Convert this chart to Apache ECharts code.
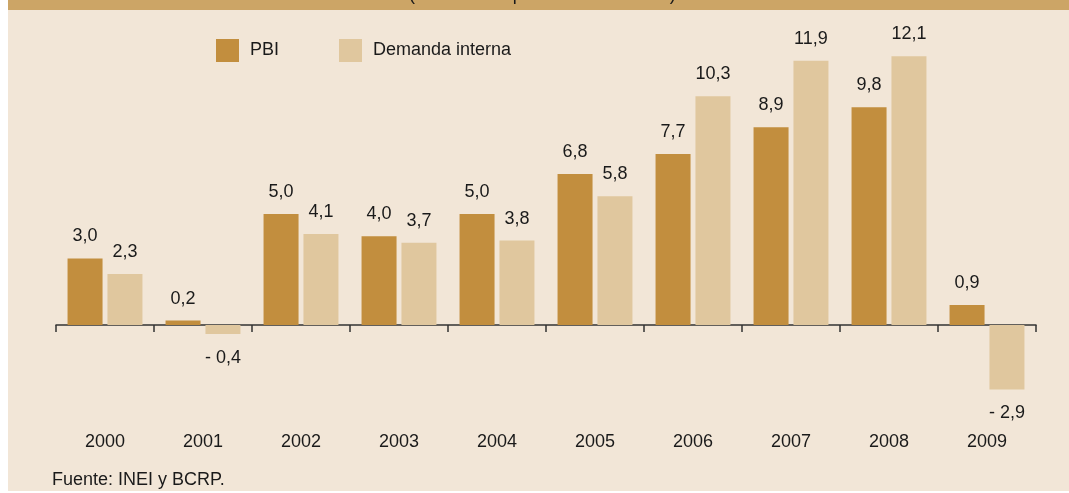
<!DOCTYPE html>
<html>
<head>
<meta charset="utf-8">
<script src="https://cdn.jsdelivr.net/npm/echarts@6/dist/echarts.min.js"></script>
<style>
  html, body { margin: 0; padding: 0; background: #ffffff; }
  #chart { width: 1069px; height: 493px; }
</style>
</head>
<body>
<div id="chart"></div>
<script>
var years = ['2000', '2001', '2002', '2003', '2004', '2005', '2006', '2007', '2008', '2009'];
var pbi = [3.0, 0.2, 5.0, 4.0, 5.0, 6.8, 7.7, 8.9, 9.8, 0.9];
var demanda = [2.3, -0.4, 4.1, 3.7, 3.8, 5.8, 10.3, 11.9, 12.1, -2.9];

var FONT = '"Liberation Sans", Arial, sans-serif';

// 3.0 -> "3,0", -0.4 -> "- 0,4"
function fmt(v) {
  var s = Math.abs(v).toFixed(1).replace('.', ',');
  return v < 0 ? '- ' + s : s;
}

// positive values labelled above, negatives below
function withLabels(arr) {
  return arr.map(function (v) {
    return {
      value: v,
      label: { position: v < 0 ? 'bottom' : 'top', distance: v < 0 ? 15 : 13 }
    };
  });
}

var myChart = echarts.init(document.getElementById('chart'));

var barLabel = {
  show: true,
  color: '#1a1a1a',
  fontSize: 18,
  fontFamily: FONT,
  formatter: function (p) { return fmt(p.value); }
};

var option = {
  animation: false,
  backgroundColor: 'transparent',
  graphic: [
    { type: 'rect', shape: { x: 8, y: 0, width: 1061, height: 491 }, style: { fill: '#F2E6D7' }, z: -10 },
    { type: 'rect', shape: { x: 8, y: 0, width: 1061, height: 10 }, style: { fill: '#CCA566' }, z: -9 },
    {
      type: 'text', left: 409, top: -14, z: -8,
      style: { text: '(Variaciones porcentuales reales)', fill: '#1a1a1a', fontSize: 18, fontFamily: FONT }
    },
    {
      type: 'text', left: 52, top: 471,
      style: { text: 'Fuente: INEI y BCRP.', fill: '#1a1a1a', fontSize: 18, fontFamily: FONT }
    }
  ],
  legend: {
    left: 216,
    top: 39,
    padding: 0,
    icon: 'rect',
    itemWidth: 23,
    itemHeight: 23,
    itemGap: 60,
    textStyle: { color: '#1a1a1a', fontSize: 18, fontFamily: FONT, padding: [0, 0, 0, 6] },
    data: ['PBI', 'Demanda interna']
  },
  grid: { left: 56, right: 33, top: 14, bottom: 68, outerBoundsMode: 'none', containLabel: false },
  xAxis: [
    {
      type: 'category',
      data: years,
      axisLine: { onZero: true, lineStyle: { color: '#333333', width: 1.5 } },
      axisTick: { show: true, length: 7, lineStyle: { color: '#333333', width: 1.5 } },
      axisLabel: { show: false }
    },
    {
      // year labels along the bottom, away from the zero line
      type: 'category',
      data: years,
      position: 'bottom',
      axisLine: { show: false, onZero: false },
      axisTick: { show: false },
      axisLabel: { margin: 8, color: '#1a1a1a', fontSize: 18, fontFamily: FONT }
    }
  ],
  yAxis: {
    type: 'value',
    min: -4.5,
    max: 14,
    show: false,
    splitLine: { show: false }
  },
  series: [
    {
      name: 'PBI',
      type: 'bar',
      barWidth: 35,
      barGap: '14%',
      itemStyle: { color: '#C28E3E' },
      label: barLabel,
      data: withLabels(pbi)
    },
    {
      name: 'Demanda interna',
      type: 'bar',
      barWidth: 35,
      itemStyle: { color: '#E0C79E' },
      label: barLabel,
      data: withLabels(demanda)
    }
  ]
};

myChart.setOption(option);
</script>
</body>
</html>
